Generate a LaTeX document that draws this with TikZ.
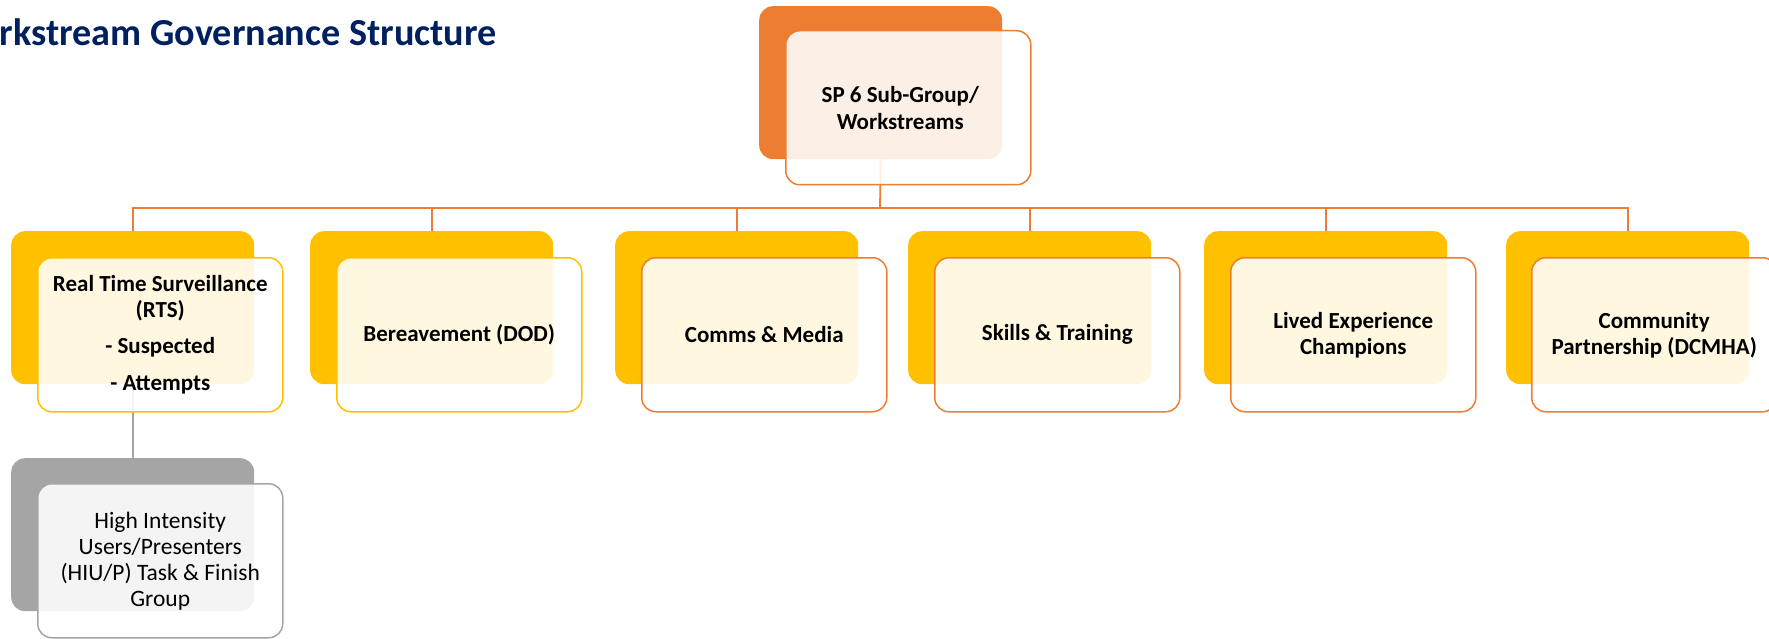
\documentclass[tikz,border=0pt]{standalone}
\usepackage{fontspec}
\setmainfont{Carlito}
\definecolor{orng}{HTML}{ED7D31}
\definecolor{gold}{HTML}{FFC000}
\definecolor{grayb}{HTML}{A5A5A5}
\definecolor{navy}{HTML}{002060}
\tikzset{
 backbox/.style={fill=#1, draw=none, rounded corners=14pt, minimum width=243pt, minimum height=153pt, anchor=north west, inner sep=0pt},
 frontbox/.style={draw=#1, line width=1.5pt, fill=white, fill opacity=0.88, text opacity=1, rounded corners=14pt, minimum width=245pt, minimum height=154pt, anchor=north west, align=center, inner sep=2pt, font=\bfseries\fontsize{23}{26}\selectfont, text=black},
 boxtext/.style={align=center, inner sep=0pt, font=\bfseries\fontsize{23}{27}\selectfont, text=black},
 link/.style={draw=orng, line width=1.8pt},
 glink/.style={draw=grayb, line width=1.8pt},
}
\begin{document}
\begin{tikzpicture}[x=1pt,y=-1pt]
\useasboundingbox (0,0) rectangle (1769,639);
% title
\node[anchor=base east, inner sep=0pt, font=\bfseries\fontsize{38.2}{40}\selectfont, text=navy] (title) at (497,46) {Workstream Governance Structure};
% back boxes
\node[backbox=orng] (topb) at (759,6) {};
\node[backbox=gold] (rtsb) at (11,231) {};
\node[backbox=gold] (berb) at (310,231) {};
\node[backbox=gold] (comb) at (615,231) {};
\node[backbox=gold] (skib) at (908,231) {};
\node[backbox=gold] (livb) at (1204,231) {};
\node[backbox=gold] (cpab) at (1506,231) {};
\node[backbox=grayb] (hiub) at (11,458) {};
% connectors
\coordinate (bus) at (880,208);
\draw[link] (topb.south) -- (bus);
\foreach \c in {rtsb,berb,comb,skib,livb,cpab}{
  \draw[link] (bus) -| (\c.north);
}
\draw[glink] (rtsb.south) -- (hiub.north);
% front boxes
\node[frontbox=orng] (top) at (785,30) {};
\node[boxtext] (toptext) at ([xshift=-8pt]top.center) {SP 6 Sub-Group/\\Workstreams};
\node[frontbox=gold] (rts) at (37,257) {Real Time Surveillance\\(RTS)\\[10pt]- Suspected\\[11pt]- Attempts};
\node[frontbox=gold] (ber) at (336,257) {Bereavement (DOD)};
\node[frontbox=orng] (com) at (641,257) {Comms \& Media};
\node[frontbox=orng] (ski) at (934,257) {Skills \& Training};
\node[frontbox=orng] (liv) at (1230,257) {Lived Experience\\Champions};
\node[frontbox=orng] (cpa) at (1531,257) {Community\\Partnership (DCMHA)};
\node[frontbox=grayb, font=\fontsize{23.5}{26}\selectfont] (hiu) at (37,483) {High Intensity\\Users/Presenters\\(HIU/P) Task \& Finish\\Group};
\end{tikzpicture}
\end{document}
